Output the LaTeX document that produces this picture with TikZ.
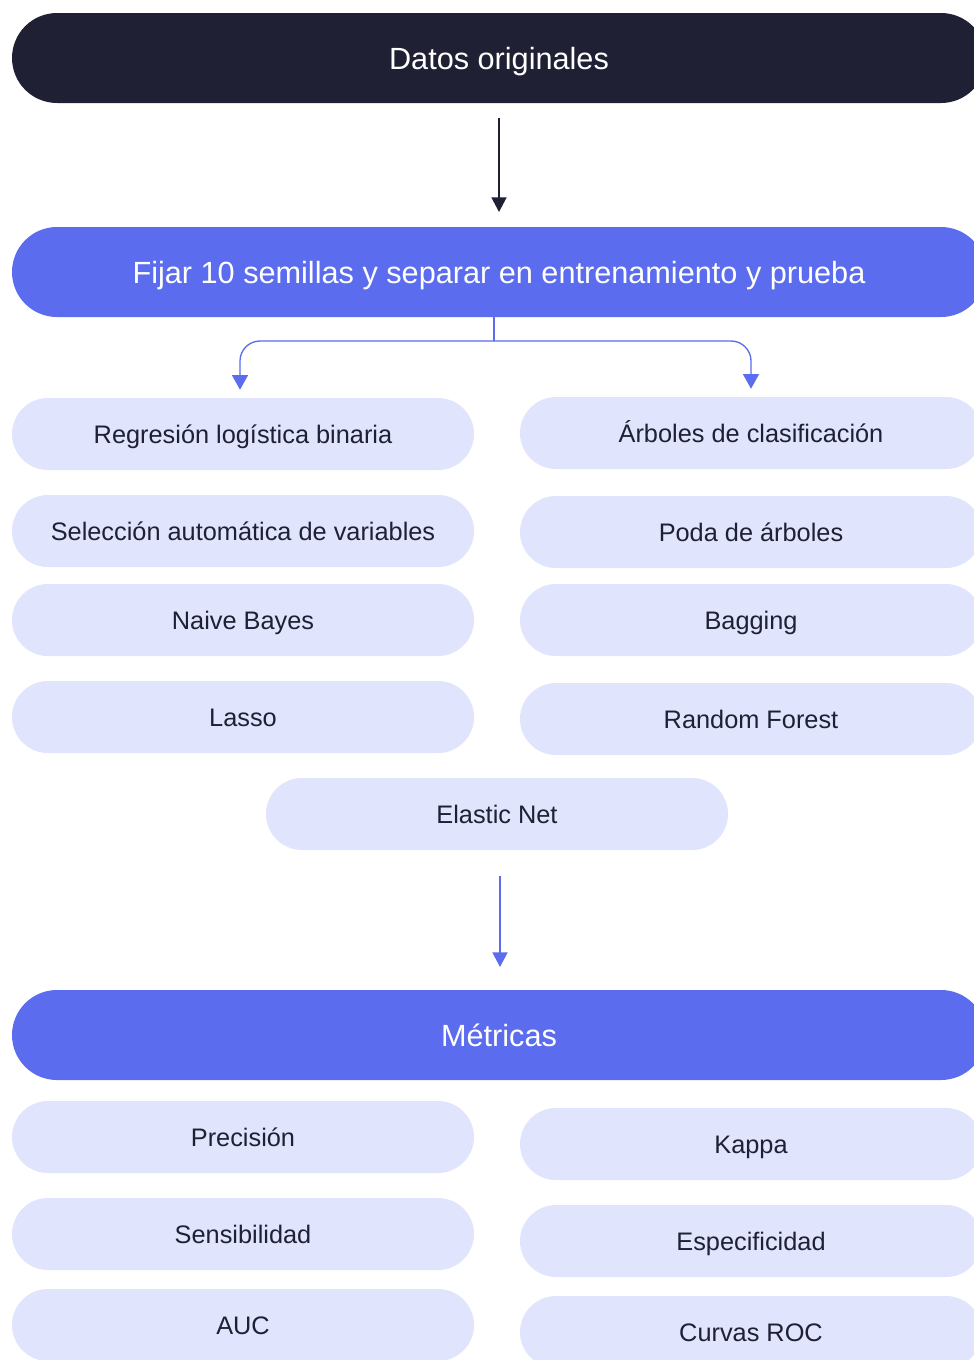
\documentclass[tikz,border=0pt]{standalone}
\usepackage{fontspec}
\setmainfont{Liberation Sans}
\usepackage{tikz}
\usetikzlibrary{arrows.meta, positioning}
\definecolor{inkdark}{HTML}{1F2033}
\definecolor{flowblue}{HTML}{5B6CEE}
\definecolor{paleblue}{HTML}{E0E4FC}

\begin{document}
\begin{tikzpicture}[x=0.75pt, y=-0.75pt,
    bigbox/.style={minimum width=730.5pt, minimum height=67.5pt, rounded corners=33.75pt,
        text=white, font=\fontsize{23}{27}\selectfont, inner sep=0pt,
        text height=16.5pt, text depth=0pt},
    itembox/.style={fill=paleblue, minimum width=346.5pt, minimum height=54pt, rounded corners=27pt,
        text=inkdark, font=\fontsize{19}{23}\selectfont, inner sep=0pt,
        text height=13.6pt, text depth=0pt},
    flow/.style={line width=2pt, -{Triangle[length=11pt, width=11pt]}}]

% Page frame
\useasboundingbox (0,0) rectangle (974,1360);
\clip (0,0) rectangle (974,1360);

% Data and split
\node[bigbox, fill=inkdark] (datos) at (499,58) {Datos originales};
\node[bigbox, fill=flowblue] (fijar) at (499,272) {Fijar 10 semillas y separar en entrenamiento y prueba};
\draw[flow, draw=inkdark, fill=inkdark, shorten <=11pt, shorten >=11pt] (datos) -- (fijar);

% Models, left column
\node[itembox] (reg) at (243,434) {Regresión logística binaria};
\node[itembox] (sel) at (243,531) {Selección automática de variables};
\node[itembox] (naive) at (243,620) {Naive Bayes};
\node[itembox] (lasso) at (243,717) {Lasso};

% Models, right column
\node[itembox] (arb) at (751,433) {Árboles de clasificación};
\node[itembox] (poda) at (751,532) {Poda de árboles};
\node[itembox] (bag) at (751,620) {Bagging};
\node[itembox] (rf) at (751,719) {Random Forest};

\node[itembox] (elastic) at (497,814) {Elastic Net};

% Split connector
\coordinate (split) at (494,341);
\draw[flowblue, line width=1pt] (fijar.south -| split) -- (split);
\draw[flowblue, line width=1pt, rounded corners=15pt, -{Triangle[length=11pt, width=12pt]}, shorten >=6pt]
    (split) -| ([xshift=-2.25pt]reg.north);
\draw[flowblue, line width=1pt, rounded corners=15pt, -{Triangle[length=11pt, width=12pt]}, shorten >=6pt]
    (split) -| (arb.north);

% Metrics
\node[bigbox, fill=flowblue] (metricas) at (499,1035) {Métricas};
\draw[flow, draw=flowblue, fill=flowblue, shorten <=19.5pt, shorten >=17pt] (elastic.south -| 500,0) -- (metricas.north -| 500,0);

\node[itembox] (prec) at (243,1137) {Precisión};
\node[itembox] (sens) at (243,1234) {Sensibilidad};
\node[itembox] (auc) at (243,1325) {AUC};
\node[itembox] (kappa) at (751,1144) {Kappa};
\node[itembox] (espec) at (751,1241) {Especificidad};
\node[itembox] (roc) at (751,1332) {Curvas ROC};

\end{tikzpicture}
\end{document}
